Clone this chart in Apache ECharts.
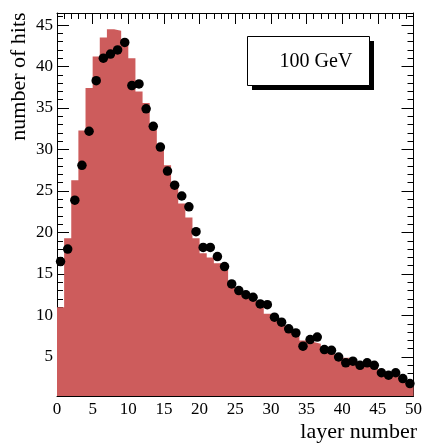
<!DOCTYPE html>
<html><head><meta charset="utf-8">
<script src="https://cdn.jsdelivr.net/npm/echarts@6/dist/echarts.min.js"></script>
<style>html,body{margin:0;padding:0;background:#fff}#c{width:425px;height:444px}</style>
</head><body><div id="c"></div>
<script>
// bin start of each layer (bins are 1 layer wide)
const layers = [0,1,2,3,4,5,6,7,8,9,10,11,12,13,14,15,16,17,18,19,20,21,22,23,24,25,26,27,28,29,30,31,32,33,34,35,36,37,38,39,40,41,42,43,44,45,46,47,48,49];
// simulated histogram (filled)
const histHits = [11.0,19.3,26.3,32.3,37.4,41.2,43.5,44.5,44.3,43.3,41.0,37.0,35.6,33.2,30.7,28.1,25.9,23.5,21.8,19.3,17.5,17.0,16.3,15.5,13.9,13.0,12.6,12.1,11.4,10.2,9.9,9.2,8.4,7.8,7.0,6.8,6.6,6.2,5.8,5.3,4.9,4.6,4.3,4.1,3.8,3.5,3.2,2.7,2.2,1.7];
// measured data points
const dataHits = [16.5,18.0,23.9,28.1,32.2,38.3,41.0,41.5,42.0,42.9,37.7,37.9,34.9,32.8,30.3,27.4,25.7,24.4,23.1,20.1,18.2,18.2,17.1,15.9,13.8,13.0,12.5,12.2,11.4,11.3,9.8,9.2,8.4,7.9,6.3,7.1,7.4,5.9,5.8,5.0,4.3,4.5,4.0,4.3,4.0,3.1,2.8,3.1,2.4,1.8];
const xTicks = [0,5,10,15,20,25,30,35,40,45,50];
const yTicks = [5,10,15,20,25,30,35,40,45];
const yMinorTicks = [1,2,3,4,5,6,7,8,9,10,11,12,13,14,15,16,17,18,19,20,21,22,23,24,25,26,27,28,29,30,31,32,33,34,35,36,37,38,39,40,41,42,43,44,45,46];
const xTitle = 'layer number';
const yTitle = 'number of hits';
const energyLabel = '100 GeV';

const FONT = '"Liberation Serif", "DejaVu Serif", serif';
const X_MIN = 0, X_MAX = 50, Y_MIN = 0.3, Y_MAX = 46.45;

const histLine = layers.map((l, i) => [l, histHits[i]]);
histLine.push([layers[layers.length - 1] + 1, histHits[histHits.length - 1]]);
const points = layers.map((l, i) => [l + 0.5, dataHits[i]]);

const chart = echarts.init(document.getElementById('c'), null, {renderer: 'canvas'});

function xAx(pos, labels) {
  return {
    type: 'value', position: pos, min: X_MIN, max: X_MAX, interval: 5,
    axisLine: {show: true, onZero: false, lineStyle: {color: '#000', width: 1}},
    axisTick: {show: true, inside: true, length: 11, lineStyle: {color: '#000', width: 1}},
    minorTick: {show: true, splitNumber: 5, length: 6, lineStyle: {color: '#000', width: 1}},
    axisLabel: {show: labels, fontFamily: FONT, fontSize: 17, color: '#000', margin: 5,
      customValues: xTicks},
    splitLine: {show: false}, minorSplitLine: {show: false}
  };
}
function yAx(pos, values, len, labels, line) {
  return {
    type: 'value', position: pos, min: Y_MIN, max: Y_MAX,
    axisLine: {show: line, onZero: false, lineStyle: {color: '#000', width: 1}},
    axisTick: {show: true, inside: true, length: len, customValues: values,
      lineStyle: {color: '#000', width: 1}},
    axisLabel: {show: labels, fontFamily: FONT, fontSize: 17, color: '#000', margin: 4,
      customValues: yTicks},
    splitLine: {show: false}
  };
}

chart.setOption({
  animation: false,
  backgroundColor: '#fff',
  grid: {left: 57, top: 13, width: 361, height: 383, containLabel: false},
  xAxis: [xAx('bottom', true), xAx('top', false)],
  yAxis: [
    yAx('left', yTicks, 12, true, true),
    yAx('left', yMinorTicks, 6, false, false),
    yAx('right', yTicks, 12, false, true),
    yAx('right', yMinorTicks, 6, false, false)
  ],
  series: [
    {
      type: 'line', xAxisIndex: 0, yAxisIndex: 0, step: 'end',
      data: histLine, showSymbol: false, symbol: 'none',
      lineStyle: {width: 0, color: '#CD5C5C'},
      areaStyle: {color: '#CD5C5C', opacity: 1, origin: 'start'},
      z: 1
    },
    {
      type: 'scatter', xAxisIndex: 0, yAxisIndex: 0,
      data: points, symbol: 'circle', symbolSize: 9.5,
      itemStyle: {color: '#000', opacity: 1}, z: 3
    }
  ],
  graphic: [
    {type: 'rect', shape: {x: 252, y: 41, width: 122, height: 49}, style: {fill: '#000'}, z: 10},
    {type: 'rect', shape: {x: 247.5, y: 36.5, width: 122, height: 49},
      style: {fill: '#fff', stroke: '#000', lineWidth: 1}, z: 11},
    {type: 'text', x: 316, y: 61.5, z: 12,
      style: {text: energyLabel, font: '20px ' + FONT, fill: '#000',
        textAlign: 'center', textVerticalAlign: 'middle', align: 'center', verticalAlign: 'middle'}},
    {type: 'text', x: 417, y: 432, z: 12,
      style: {text: xTitle, font: '22px ' + FONT, fill: '#000',
        textAlign: 'right', textVerticalAlign: 'middle', align: 'right', verticalAlign: 'middle'}},
    {type: 'text', x: 19.5, y: 76.5, rotation: Math.PI / 2, z: 12,
      style: {text: yTitle, font: '22px ' + FONT, fill: '#000',
        textAlign: 'center', textVerticalAlign: 'middle', align: 'center', verticalAlign: 'middle'}}
  ]
});
</script></body></html>
